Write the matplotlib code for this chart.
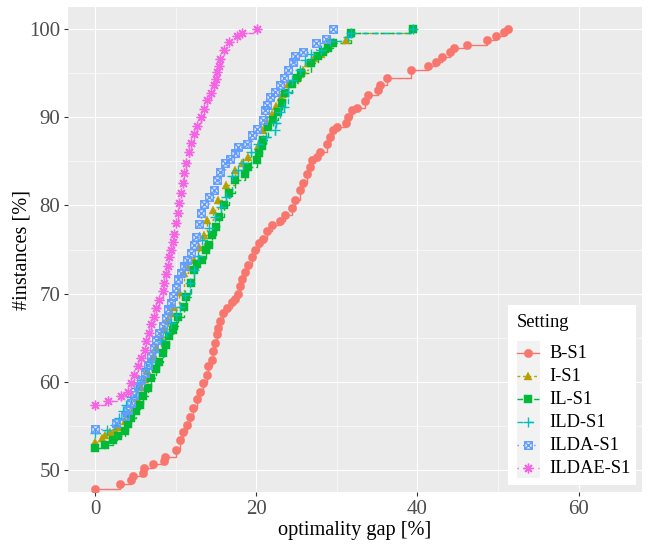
import matplotlib
matplotlib.use('Agg')
import matplotlib.pyplot as plt
from matplotlib.path import Path
from matplotlib.lines import Line2D
from matplotlib.patches import Rectangle

plt.rcParams['font.family'] = ['Liberation Serif', 'DejaVu Serif']

settings = ['B-S1', 'I-S1', 'IL-S1', 'ILD-S1', 'ILDA-S1', 'ILDAE-S1']

b_x = [0, 3.1, 4.5, 4.7, 6.0, 6.1, 7.2, 8.5, 8.7, 10.1, 10.55, 10.96, 11.37, 11.79, 12.2, 12.62, 13.03, 13.44, 13.85, 14.06,
       14.48, 14.68, 14.89, 15.1, 15.3, 15.51, 15.92, 16.34, 16.96, 17.37, 17.78, 17.99, 18.2, 18.61, 19.03, 19.44, 19.85, 20.3, 20.88, 21.3,
       21.9, 22.9, 23.57, 24.4, 24.8, 25.4, 25.85, 26.26, 26.7, 26.88, 27.5, 27.9, 28.74, 29.15, 29.57, 30.0, 31.2, 31.43, 31.84, 32.46,
       33.5, 33.9, 35.17, 35.4, 36.2, 39.2, 41.3, 42.3, 43.1, 44.0, 44.6, 46.2, 48.6, 49.8, 50.8, 51.2]
b_y = [47.9, 48.4, 48.9, 49.3, 49.7, 50.2, 50.7, 51.05, 51.5, 52.3, 53.4, 54.35, 55.1, 56.05, 57.0, 58.0, 58.9, 59.9, 60.8, 61.8,
       62.5, 63.5, 64.4, 65.4, 66.1, 66.9, 67.8, 68.4, 69.0, 69.4, 69.9, 70.9, 71.6, 72.4, 73.2, 74.1, 75.0, 75.7, 76.2, 77.1,
       77.8, 78.2, 78.9, 79.7, 80.6, 81.7, 82.5, 83.6, 84.4, 85.2, 85.5, 86.1, 87.0, 87.8, 88.5, 88.9, 89.3, 90.0, 90.8, 91.0,
       91.8, 92.5, 93.1, 93.6, 94.4, 95.3, 95.8, 96.3, 96.8, 97.4, 97.8, 98.2, 98.8, 99.2, 99.7, 100.0]

i_x = [0, 0.82, 1.23, 1.84, 2.46, 2.9, 3.7, 4.5, 4.9, 5.33, 5.74, 6.15, 6.5, 7.15, 7.6, 8.2, 8.6, 9.0, 9.4, 9.8,
       10.4, 11.0, 11.6, 12.3, 12.9, 13.5, 13.9, 14.6, 15.3, 16.3, 17.4, 18.2, 19.0, 20.2, 20.9, 21.4, 21.9, 22.5, 23.1, 23.9,
       25.2, 25.8, 26.4, 27.2, 28.0, 28.6, 29.2, 31.2, 31.8, 39.5]
i_y = [53.2, 53.6, 54.0, 54.3, 54.5, 54.9, 55.6, 56.4, 57.0, 57.9, 59.4, 60.3, 61.3, 62.8, 64.0, 65.1, 66.0, 67.0, 67.8, 68.5,
       70.2, 72.3, 73.0, 73.8, 75.3, 76.6, 78.3, 79.5, 80.6, 82.3, 84.0, 84.8, 85.5, 86.7, 88.5, 89.5, 90.4, 91.3, 92.3, 93.8,
       94.6, 95.3, 96.1, 96.7, 97.2, 98.0, 98.6, 98.8, 99.5, 100.0]

il_x = [0, 1.23, 2.25, 2.87, 3.69, 4.1, 4.5, 5.1, 5.53, 5.94, 6.56, 6.96, 7.58, 7.99, 8.4, 8.8, 9.22, 9.63, 9.8, 10.24,
        11.06, 11.27, 11.88, 12.29, 12.7, 13.3, 13.73, 14.1, 14.5, 14.96, 15.4, 16.0, 16.6, 17.4, 18.6, 19.0, 20.1, 20.3, 20.7, 20.9,
        21.5, 22.1, 22.75, 23.15, 23.6, 24.4, 25.0, 25.6, 26.8, 27.7, 28.3, 28.9, 29.5, 31.8, 39.5]
il_y = [52.45, 52.8, 53.4, 53.8, 54.4, 55.2, 55.9, 56.7, 57.4, 58.4, 59.3, 60.4, 61.4, 62.3, 63.3, 64.2, 65.2, 65.9, 66.3, 67.4,
        68.5, 69.6, 71.2, 72.7, 73.4, 73.8, 74.9, 75.5, 76.6, 77.6, 78.7, 80.0, 81.4, 82.9, 83.6, 84.4, 85.1, 85.9, 86.7, 87.4,
        88.9, 89.7, 90.6, 91.6, 92.7, 93.8, 94.4, 95.0, 96.1, 96.9, 97.4, 97.8, 98.4, 99.5, 100.0]

ild_x = [0, 1.43, 2.46, 3.0, 3.48, 3.9, 4.5, 5.1, 5.7, 6.35, 6.95, 7.4, 8.2, 8.8, 9.4, 10.0, 10.6, 11.2, 11.8, 12.3,
         12.8, 13.3, 14.1, 14.9, 15.6, 16.2, 17.0, 17.7, 18.4, 19.3, 20.2, 21.2, 22.3, 22.5, 22.9, 23.5, 23.9, 24.5, 25.4, 26.0,
         26.8, 28.0, 29.2, 31.4, 31.8, 39.5]
ild_y = [54.2, 54.5, 55.1, 55.9, 56.7, 57.4, 58.3, 59.3, 60.2, 61.6, 62.3, 63.4, 64.7, 65.7, 66.7, 67.6, 68.5, 69.8, 71.2, 72.7,
         74.3, 76.1, 77.4, 78.7, 79.8, 81.0, 83.3, 84.0, 84.8, 86.0, 87.0, 87.8, 88.5, 89.3, 90.6, 91.2, 92.9, 94.2, 95.4, 96.5,
         97.2, 97.6, 98.6, 99.1, 99.5, 100.0]

ilda_x = [0, 2.66, 3.69, 4.1, 4.5, 4.9, 5.3, 5.74, 6.15, 6.56, 6.96, 7.37, 7.58, 7.99, 8.4, 8.8, 9.0, 9.42, 9.63, 10.04,
          10.24, 10.65, 11.06, 11.47, 11.88, 12.29, 12.5, 12.9, 13.1, 13.5, 14.1, 14.75, 15.16, 15.57, 16.19, 16.8, 17.4, 17.8, 18.85, 19.5,
          20.1, 20.9, 21.1, 21.3, 21.7, 22.3, 22.95, 23.4, 24.0, 24.6, 24.8, 25.8, 27.4, 28.7, 29.55]
ilda_y = [54.65, 55.3, 56.1, 56.8, 57.6, 58.5, 59.5, 60.2, 61.0, 61.9, 62.9, 63.8, 64.7, 65.5, 66.3, 67.2, 68.2, 68.9, 69.7, 70.6,
          71.6, 72.3, 73.1, 73.8, 74.6, 75.5, 76.4, 77.9, 79.1, 80.2, 81.0, 81.7, 82.9, 83.8, 84.8, 85.3, 85.9, 86.6, 87.0, 88.0,
          88.7, 89.7, 90.8, 91.4, 92.3, 92.9, 93.6, 94.4, 95.4, 96.3, 96.9, 97.4, 98.4, 98.9, 100.0]

ildae_x = [0, 1.64, 3.28, 4.1, 4.5, 4.9, 5.3, 5.74, 6.15, 6.35, 6.76, 6.96, 7.37, 7.58, 7.99, 8.4, 8.6, 8.8, 9.0, 9.22,
           9.42, 9.63, 9.83, 10.04, 10.24, 10.45, 10.65, 10.86, 11.06, 11.27, 11.68, 11.88, 12.29, 12.70, 13.11, 13.52, 13.93, 14.34, 14.75, 14.96,
           15.16, 15.37, 15.57, 15.98, 16.6, 17.62, 18.23, 20.05]
ildae_y = [57.4, 57.8, 58.4, 58.9, 59.9, 60.8, 61.8, 62.7, 63.6, 64.6, 65.5, 66.5, 67.4, 68.4, 69.3, 70.3, 71.2, 72.2, 73.1, 74.1,
           75.0, 75.9, 76.8, 78.0, 79.1, 80.3, 81.4, 82.5, 83.7, 84.8, 86.0, 87.1, 88.1, 89.0, 90.0, 90.9, 91.9, 92.8, 93.6, 94.3,
           95.1, 95.8, 96.6, 97.6, 98.5, 99.2, 99.5, 100.0]

xs = [b_x, i_x, il_x, ild_x, ilda_x, ildae_x]
ys = [b_y, i_y, il_y, ild_y, ilda_y, ildae_y]

colors = ['#F8766D', '#B79F00', '#00BA38', '#00BFC4', '#619CFF', '#F564E3']
linestyles = ['-', (0, (2, 2)), (0, (4, 2)), (0, (4, 4)), (0, (1, 3)), (0, (1, 3, 4, 3))]

boxx = Path([(-1, -1), (1, -1), (1, 1), (-1, 1), (-1, -1), (-1, -1), (1, 1), (-1, 1), (1, -1)],
            [Path.MOVETO, Path.LINETO, Path.LINETO, Path.LINETO, Path.CLOSEPOLY,
             Path.MOVETO, Path.LINETO, Path.MOVETO, Path.LINETO])
markers = ['o', '^', 's', '+', boxx, (8, 2, 0)]
msizes = [6.0, 6.2, 5.2, 7.5, 5.4, 7.0]
filled = [True, True, True, False, False, False]

fig = plt.figure(figsize=(6.52, 5.48), dpi=100)
W, H = 652, 548
pl, pr, pt, pb = 68, 642, 7, 492
ax = fig.add_axes([pl / W, 1 - pb / H, (pr - pl) / W, (pb - pt) / H])
ax.set_facecolor('#EBEBEB')
for s in ax.spines.values():
    s.set_visible(False)

x_per = 8.06
ax.set_xlim((pl - 95) / x_per, (pr - 95) / x_per)
y_per = 8.82
ax.set_ylim(50 - (pb - 470) / y_per, 100 + (29 - pt) / y_per)

ax.set_xticks([0, 20, 40, 60])
ax.set_xticks([10, 30, 50], minor=True)
ax.set_yticks([50, 60, 70, 80, 90, 100])
ax.set_yticks([55, 65, 75, 85, 95], minor=True)
ax.grid(which='major', color='white', linewidth=0.8)
ax.grid(which='minor', color='white', linewidth=0.4)
ax.set_axisbelow(True)
ax.tick_params(which='major', length=3.0, width=0.8, color='#333333', labelcolor='#4D4D4D',
               labelsize=15, pad=2.5)
ax.tick_params(which='minor', length=0)

for x, y, c, ls in zip(xs, ys, colors, linestyles):
    ax.plot(x, y, drawstyle='steps-post', color=c, linestyle=ls, linewidth=1.0, zorder=2)

marker_kws = []
for x, y, c, m, ms, f in zip(xs, ys, colors, markers, msizes, filled):
    kw = dict(marker=m, markersize=ms, markeredgecolor=c)
    if f:
        kw.update(markerfacecolor=c, markeredgewidth=0.3)
    else:
        kw.update(markerfacecolor='none', markeredgewidth=1.0)
    marker_kws.append(kw)
    ax.plot(x, y, color=c, linestyle='none', zorder=3, **kw)

ax.set_xlabel('optimality gap [%]', fontsize=14.6, color='black')
ax.set_ylabel('#instances [%]', fontsize=14.6, color='black')
ax.xaxis.set_label_coords(0.5, -(531 - pb) / (pb - pt), transform=ax.transAxes)
ax.yaxis.set_label_coords(-(pl - 22) / (pr - pl), 0.5, transform=ax.transAxes)
ax.xaxis.label.set_va('center')
ax.yaxis.label.set_va('center')


# ---- legend (ggplot style, drawn in figure pixel space) ----
def fx(px):
    return px / W


def fy(py):
    return 1 - py / H


tf = fig.transFigure
fs = 13.3
fig.patches.append(Rectangle((fx(508), fy(485)), fx(636) - fx(508), fy(305) - fy(485),
                             transform=tf, facecolor='white', edgecolor='none', zorder=5))
fig.patches.append(Rectangle((fx(516.5), fy(477.5)), fx(539.5) - fx(516.5), fy(341) - fy(477.5),
                             transform=tf, facecolor='#F2F2F2', edgecolor='none', zorder=6))
fig.text(fx(516.7), fy(322.5), 'Setting', fontsize=fs, color='black', ha='left', va='center', zorder=7)
for i, (lab, c, ls, kw) in enumerate(zip(settings, colors, linestyles, marker_kws)):
    yy = fy(353 + 23.05 * i)
    fig.lines.append(Line2D([fx(517), fx(539)], [yy, yy], transform=tf, color=c, linestyle=ls,
                            linewidth=1.0, zorder=7))
    fig.lines.append(Line2D([fx(528)], [yy], transform=tf, color=c, linestyle='none', zorder=8, **kw))
    fig.text(fx(549.3), yy, lab, fontsize=fs, color='black', ha='left', va='center', zorder=8)

fig.savefig('out.png', dpi=100, facecolor='white')
